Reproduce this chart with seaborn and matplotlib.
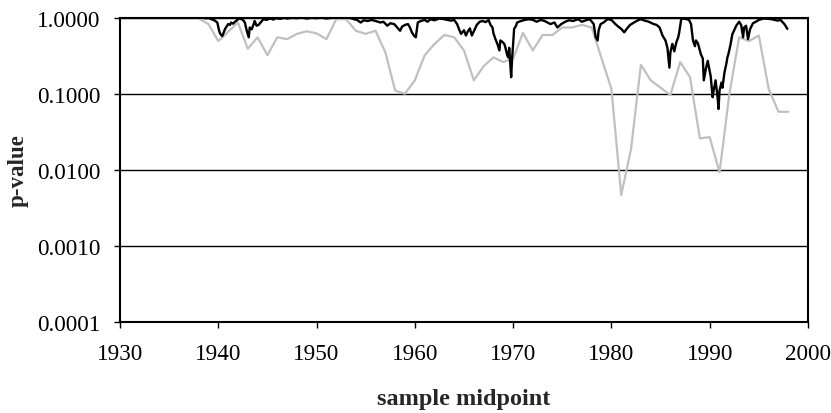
import numpy as np
import pandas as pd
import matplotlib
matplotlib.use("Agg")
import matplotlib.pyplot as plt
import seaborn as sns

# ---- data ----
gray_years = list(range(1938, 1999))
gray_p = [0.97, 0.82, 0.49, 0.65, 0.86, 0.39, 0.55, 0.32, 0.55, 0.52,
          0.61, 0.66, 0.62, 0.52, 0.95, 0.95, 0.67, 0.61, 0.67, 0.35,
          0.11, 0.10, 0.15, 0.32, 0.45, 0.59, 0.55, 0.37, 0.15, 0.23,
          0.30, 0.26, 0.29, 0.63, 0.37, 0.59, 0.59, 0.74, 0.74, 0.80,
          0.74, 0.29, 0.116, 0.0047, 0.019, 0.24, 0.15, 0.12, 0.096, 0.26,
          0.165, 0.026, 0.027, 0.0093, 0.099, 0.55, 0.49, 0.58, 0.116, 0.058,
          0.058]

black_t = [1938.7, 1939.0, 1939.3, 1939.6, 1939.9, 1940.1, 1940.2, 1940.4, 1940.6, 1940.7,
           1940.9, 1941.0, 1941.2, 1941.3, 1941.5, 1941.7, 1941.9, 1942.1, 1942.4, 1942.6,
           1942.7, 1942.9, 1943.1, 1943.2, 1943.4, 1943.6, 1943.7, 1943.9, 1944.1, 1944.3,
           1944.6, 1944.9, 1945.3, 1945.6, 1945.9, 1946.3, 1946.7, 1947.0, 1947.5, 1948.0,
           1948.5, 1949.0, 1949.5, 1950.0, 1950.5, 1951.0, 1951.5, 1952.0, 1952.5, 1953.0,
           1953.5, 1953.8, 1954.1, 1954.5, 1954.8, 1955.2, 1955.6, 1956.0, 1956.5, 1956.8,
           1957.2, 1957.5, 1957.9, 1958.2, 1958.5, 1958.7, 1959.0, 1959.3, 1959.5, 1959.7,
           1959.9, 1960.1, 1960.3, 1960.6, 1961.0, 1961.3, 1961.6, 1962.0, 1962.5, 1963.0,
           1963.3, 1963.7, 1964.0, 1964.3, 1964.5, 1964.7, 1965.0, 1965.2, 1965.4, 1965.6,
           1965.8, 1966.0, 1966.3, 1966.6, 1966.9, 1967.2, 1967.5, 1967.7, 1967.9, 1968.0,
           1968.2, 1968.4, 1968.6, 1968.7, 1968.9, 1969.1, 1969.2, 1969.4, 1969.5, 1969.6,
           1969.75, 1969.8, 1969.9, 1970.0, 1970.1, 1970.3, 1970.4, 1970.8, 1971.2, 1971.6,
           1972.0, 1972.4, 1972.8, 1973.2, 1973.5, 1973.8, 1974.2, 1974.5, 1974.9, 1975.3,
           1975.7, 1976.1, 1976.6, 1977.0, 1977.4, 1977.8, 1978.2, 1978.4, 1978.6, 1978.7,
           1978.9, 1979.2, 1979.6, 1980.0, 1980.4, 1980.7, 1981.0, 1981.3, 1981.6, 1981.9,
           1982.3, 1982.7, 1983.0, 1983.4, 1983.8, 1984.3, 1984.6, 1984.9, 1985.2, 1985.5,
           1985.7, 1985.8, 1985.9, 1986.0, 1986.2, 1986.4, 1986.6, 1986.8, 1986.9, 1987.1,
           1987.4, 1987.9, 1988.1, 1988.3, 1988.5, 1988.6, 1988.8, 1989.1, 1989.3, 1989.4,
           1989.6, 1989.8, 1989.9, 1990.1, 1990.3, 1990.4, 1990.6, 1990.8, 1990.9, 1991.0,
           1991.2, 1991.3, 1991.5, 1991.7, 1991.8, 1991.9, 1992.1, 1992.3, 1992.7, 1993.0,
           1993.2, 1993.4, 1993.5, 1993.7, 1993.9, 1994.1, 1994.4, 1994.7, 1995.0, 1995.5,
           1996.0, 1996.3, 1996.9, 1997.2, 1997.6, 1997.9]
black_p = [0.97, 0.99, 0.95, 0.92, 0.86, 0.66, 0.61, 0.57, 0.66, 0.71,
           0.78, 0.82, 0.80, 0.86, 0.83, 0.88, 0.92, 0.97, 0.95, 0.90,
           0.86, 0.67, 0.55, 0.74, 0.70, 0.82, 0.90, 0.78, 0.80, 0.86,
           0.95, 0.93, 0.97, 0.94, 0.98, 0.96, 0.99, 0.97, 0.99, 0.98,
           1.00, 0.97, 0.99, 0.98, 1.00, 0.97, 0.99, 1.00, 0.99, 1.00,
           0.98, 0.95, 0.93, 0.86, 0.92, 0.90, 0.93, 0.90, 0.86, 0.88,
           0.78, 0.84, 0.82, 0.74, 0.67, 0.76, 0.80, 0.82, 0.74, 0.64,
           0.58, 0.55, 0.86, 0.90, 0.93, 0.88, 0.95, 0.92, 0.97, 0.95,
           0.93, 0.91, 0.93, 0.82, 0.70, 0.61, 0.68, 0.58, 0.66, 0.72,
           0.58, 0.66, 0.80, 0.88, 0.90, 0.87, 0.93, 0.80, 0.74, 0.62,
           0.52, 0.45, 0.37, 0.50, 0.48, 0.45, 0.41, 0.32, 0.30, 0.40,
           0.20, 0.165, 0.30, 0.45, 0.71, 0.78, 0.86, 0.90, 0.93, 0.95,
           0.93, 0.88, 0.93, 0.90, 0.86, 0.82, 0.86, 0.74, 0.82, 0.88,
           0.92, 0.90, 0.95, 0.88, 0.92, 0.95, 0.82, 0.55, 0.50, 0.68,
           0.82, 0.86, 0.95, 0.93, 0.82, 0.76, 0.71, 0.64, 0.72, 0.80,
           0.86, 0.92, 0.95, 0.91, 0.88, 0.82, 0.80, 0.74, 0.58, 0.50,
           0.40, 0.30, 0.22, 0.35, 0.45, 0.36, 0.47, 0.55, 0.64, 0.95,
           0.97, 0.93, 0.82, 0.50, 0.42, 0.50, 0.46, 0.33, 0.29, 0.15,
           0.21, 0.27, 0.23, 0.17, 0.09, 0.11, 0.15, 0.09, 0.063, 0.11,
           0.14, 0.12, 0.19, 0.25, 0.30, 0.33, 0.43, 0.60, 0.78, 0.88,
           0.80, 0.55, 0.74, 0.78, 0.52, 0.70, 0.84, 0.88, 0.93, 0.97,
           0.96, 0.95, 0.91, 0.93, 0.82, 0.71]

x_ticks = [1930, 1940, 1950, 1960, 1970, 1980, 1990, 2000]
y_ticks = [0.0001, 0.001, 0.01, 0.1, 1.0]
y_ticklabels = ["0.0001", "0.0010", "0.0100", "0.1000", "1.0000"]

# ---- plot ----
sns.set_style("ticks")
plt.rcParams["font.family"] = ["Liberation Serif", "DejaVu Serif"]

fig = plt.figure(figsize=(8.31, 4.14), dpi=100)
ax = fig.add_axes([0.1444, 0.2186, 0.8279, 0.7367])

gray_df = pd.DataFrame({"year": gray_years, "p": gray_p})
black_df = pd.DataFrame({"year": black_t, "p": black_p})

sns.lineplot(data=gray_df, x="year", y="p", ax=ax, color="#c0c0c0", linewidth=1.6)
sns.lineplot(data=black_df, x="year", y="p", ax=ax, color="black", linewidth=1.7)

ax.set_yscale("log")
ax.set_ylim(0.0001, 1.0)
ax.set_xlim(1930, 2000)
ax.set_xticks(x_ticks)
ax.set_xticklabels([str(t) for t in x_ticks])
ax.set_yticks(y_ticks)
ax.set_yticklabels(y_ticklabels)
ax.yaxis.set_minor_locator(matplotlib.ticker.NullLocator())

for yv in y_ticks[1:]:
    ax.axhline(yv, color="black", linewidth=1.0, zorder=0)

for s in ax.spines.values():
    s.set_visible(True)
    s.set_color("black")
    s.set_linewidth(1.5)

ax.tick_params(axis="both", direction="out", length=4, width=1.0, colors="black",
               labelsize=16.7)
ax.tick_params(axis="x", pad=11)
ax.tick_params(axis="y", pad=10)

ax.set_xlabel("sample midpoint", fontsize=17.5, fontweight="bold", labelpad=17)
ax.set_ylabel("p-value", fontsize=16.5, fontweight="bold", labelpad=6)

fig.savefig("out.png", dpi=100, facecolor="white")
